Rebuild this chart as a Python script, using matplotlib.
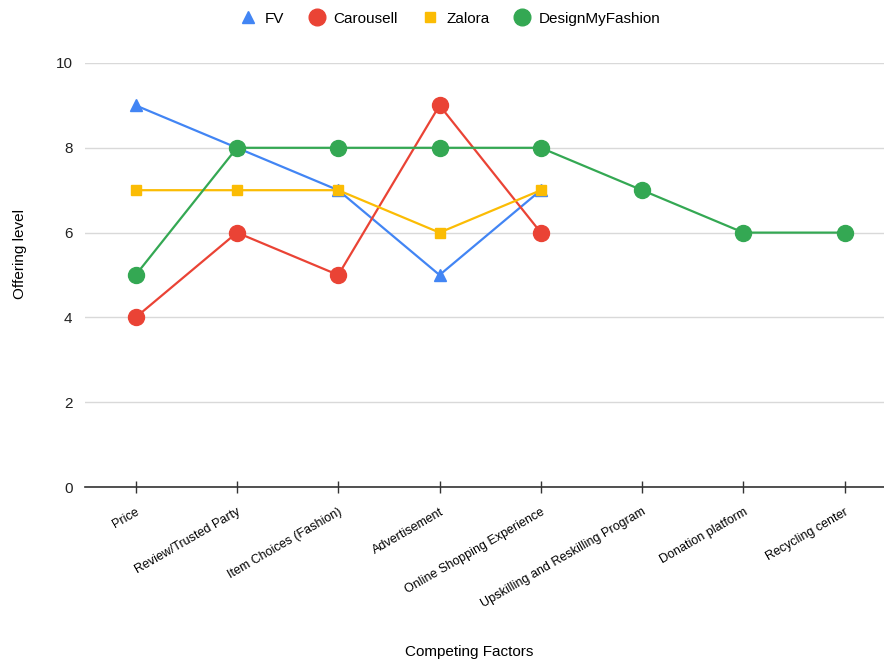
import matplotlib.pyplot as plt
from matplotlib.lines import Line2D

plt.rcParams['font.family'] = ['Liberation Sans', 'DejaVu Sans']

factors = ["Price", "Review/Trusted Party", "Item Choices (Fashion)", "Advertisement",
           "Online Shopping Experience", "Upskilling and Reskilling Program",
           "Donation platform", "Recycling center"]

fv = [9, 8, 7, 5, 7]
carousell = [4, 6, 5, 9, 6]
zalora = [7, 7, 7, 6, 7]
designmyfashion = [5, 8, 8, 8, 8, 7, 6, 6]

blue = "#4285F4"
red = "#EA4335"
yellow = "#FBBC04"
green = "#34A853"

fig = plt.figure(figsize=(8.84, 6.61), dpi=100)
ax = fig.add_axes([0.0962, 0.2632, 0.904, 0.6415])

x_all = list(range(len(factors)))
ax.plot(x_all[:len(fv)], fv, color=blue, lw=1.6, marker="^", ms=8, zorder=3)
ax.plot(x_all[:len(carousell)], carousell, color=red, lw=1.6, marker="o", ms=11.5, zorder=3)
ax.plot(x_all[:len(zalora)], zalora, color=yellow, lw=1.6, marker="s", ms=7, zorder=3)
ax.plot(x_all[:len(designmyfashion)], designmyfashion, color=green, lw=1.6, marker="o", ms=11.5, zorder=3)

ax.set_xlim(-0.5, 7.39)
ax.set_ylim(0, 10)
ax.set_yticks([0, 2, 4, 6, 8, 10])
ax.grid(axis="y", color="#d9d9d9", lw=1)
ax.set_axisbelow(True)

for s in ["top", "right", "left"]:
    ax.spines[s].set_visible(False)
ax.spines["bottom"].set_color("#333333")
ax.spines["bottom"].set_linewidth(1.2)

ax.set_xticks(x_all)
ax.set_xticklabels(factors, rotation=30, ha="right", rotation_mode="anchor", fontsize=9)
ax.tick_params(axis="x", direction="inout", length=9, width=1, color="#333333", pad=9)
ax.tick_params(axis="y", length=0, labelsize=11, pad=9, labelcolor="#222222")

ax.set_ylabel("Offering level", fontsize=11)
ax.yaxis.set_label_coords(-0.073, 0.55)
fig.text(0.5305, 0.0136, "Competing Factors", ha="center", va="center", fontsize=11)

handles = [
    Line2D([], [], color=blue, marker="^", ls="", ms=8.5),
    Line2D([], [], color=red, marker="o", ls="", ms=12),
    Line2D([], [], color=yellow, marker="s", ls="", ms=7),
    Line2D([], [], color=green, marker="o", ls="", ms=12),
]
fig.legend(handles, ["FV", "Carousell", "Zalora", "DesignMyFashion"],
           loc="center", bbox_to_anchor=(0.509, 0.972), ncol=4, frameon=False,
           fontsize=11, handletextpad=0.5, columnspacing=1.5, handlelength=1.2)

fig.savefig("out.png", dpi=100)
